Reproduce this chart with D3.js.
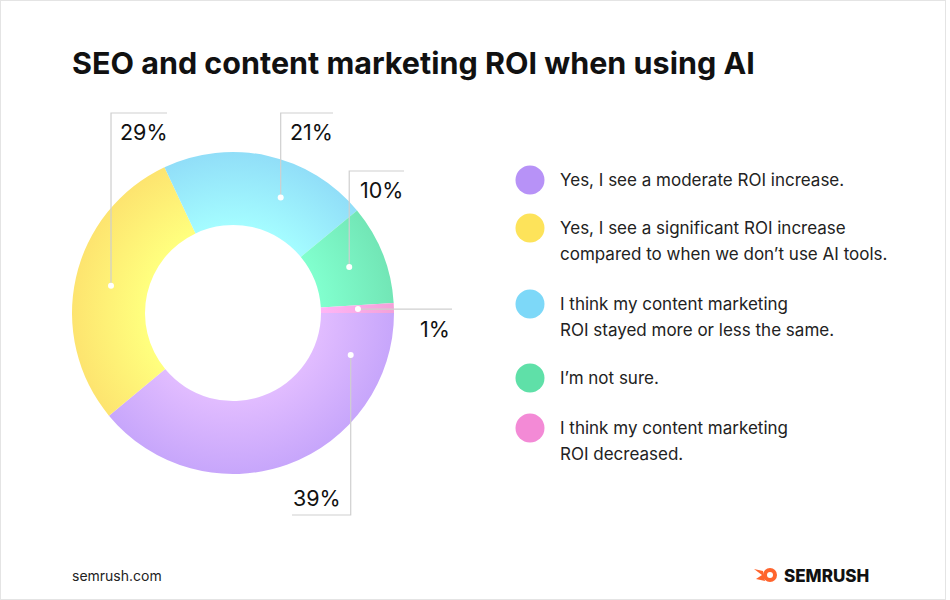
<!DOCTYPE html>
<html><head><meta charset="utf-8">
<script src="https://cdn.jsdelivr.net/npm/d3@7"></script>
<style>body{margin:0;background:#fff;font-family:Inter,"Noto Sans",sans-serif}</style>
</head><body><div id="chart"></div>
<script>
const categories = ["Yes, I see a moderate ROI increase.",
  "Yes, I see a significant ROI increase|compared to when we don\u2019t use AI tools.",
  "I think my content marketing|ROI stayed more or less the same.",
  "I\u2019m not sure.",
  "I think my content marketing|ROI decreased."];
const values = [39, 29, 21, 10, 1];
const colors = ["#c7a6fb", "#fde46f", "#91def8", "#72e6b6", "#f3a1d9"];
const legendColors = ["#b792f7", "#fde35a", "#7dd8f8", "#5fe0a8", "#f38ad6"];
// where along each slice the leader dot sits (0 = start, 1 = end)
const dotAt = [0.14, 0.5, 0.63, 0.5, 0.5];
const leaders = [
  {ly: 515, lx: 292, tx: 293, ty: 506},
  {ly: 113, lx: 167, tx: 120, ty: 140},
  {ly: 113, lx: 333, tx: 290, ty: 140},
  {ly: 171, lx: 404, tx: 360, ty: 198},
  {ly: null, lx: 452, tx: 420, ty: 337}
];
const legendY = [180, 228, 304, 378, 428];

const svg = d3.select("#chart").append("svg").attr("width", 950).attr("height", 600);
svg.append("rect").attr("x", 0.5).attr("y", 0.5).attr("width", 945).attr("height", 599)
  .attr("fill", "#fff").attr("stroke", "#e4e4e4");

svg.append("text").attr("x", 72).attr("y", 74).attr("font-size", 30.5).attr("font-weight", 700)
  .attr("fill", "#111").text("SEO and content marketing ROI when using AI");

const cx = 233, cy = 313, R = 161, r = 88;
const pie = d3.pie().sort(null).startAngle(Math.PI / 2).endAngle(Math.PI / 2 + 2 * Math.PI);
const arcs = pie(values);
const arc = d3.arc().innerRadius(r).outerRadius(R);
const g = svg.append("g").attr("transform", `translate(${cx},${cy})`);

const defs = svg.append("defs");
colors.forEach((c, i) => {
  const gr = defs.append("radialGradient").attr("id", "g" + i)
    .attr("gradientUnits", "userSpaceOnUse").attr("cx", 0).attr("cy", 0).attr("r", R);
  gr.append("stop").attr("offset", "55%").attr("stop-color", d3.color(c).brighter(0.35));
  gr.append("stop").attr("offset", "100%").attr("stop-color", c);
});

g.selectAll("path").data(arcs).join("path").attr("d", arc)
  .attr("fill", (d, i) => `url(#g${i})`);

// leaders
arcs.forEach((d, i) => {
  const a = d.startAngle + (d.endAngle - d.startAngle) * dotAt[i];
  const px = cx + 125 * Math.sin(a), py = cy - 125 * Math.cos(a);
  const L = leaders[i];
  let pts;
  if (L.ly === null) pts = [[px, py], [L.lx, py]];
  else pts = [[px, py], [px, L.ly], [L.lx, L.ly]];
  svg.append("path").attr("d", d3.line()(pts)).attr("fill", "none")
    .attr("stroke", "#cfcfcf").attr("stroke-width", 1.2);
  svg.append("circle").attr("cx", px).attr("cy", py).attr("r", 3).attr("fill", "#fff");
  svg.append("text").attr("x", L.tx).attr("y", L.ty).attr("font-size", 21.5)
    .attr("fill", "#111").text(values[i] + "%");
});

// legend
categories.forEach((c, i) => {
  svg.append("circle").attr("cx", 530).attr("cy", legendY[i]).attr("r", 14.5).attr("fill", legendColors[i]);
  const t = svg.append("text").attr("x", 560).attr("y", legendY[i] + 6).attr("font-size", 17).attr("fill", "#222");
  c.split("|").forEach((line, j) => t.append("tspan").attr("x", 560).attr("dy", j ? 26 : 0).text(line));
});

svg.append("text").attr("x", 72).attr("y", 581).attr("font-size", 14).attr("fill", "#222").text("semrush.com");
// logo
const lg = svg.append("g").attr("transform", "translate(770,575)");
lg.append("circle").attr("cx", 0).attr("cy", 0).attr("r", 7).attr("fill", "#ff642d");
lg.append("circle").attr("cx", 0).attr("cy", 0).attr("r", 3).attr("fill", "#fff");
lg.append("path").attr("d", "M-7,-4 L-16,-6 L-8,0 L-14,4 L-5,6 Z").attr("fill", "#ff642d");
svg.append("text").attr("x", 784).attr("y", 582).attr("font-size", 17).attr("font-weight", 800)
  .attr("fill", "#111").text("SEMRUSH");
</script></body></html>
